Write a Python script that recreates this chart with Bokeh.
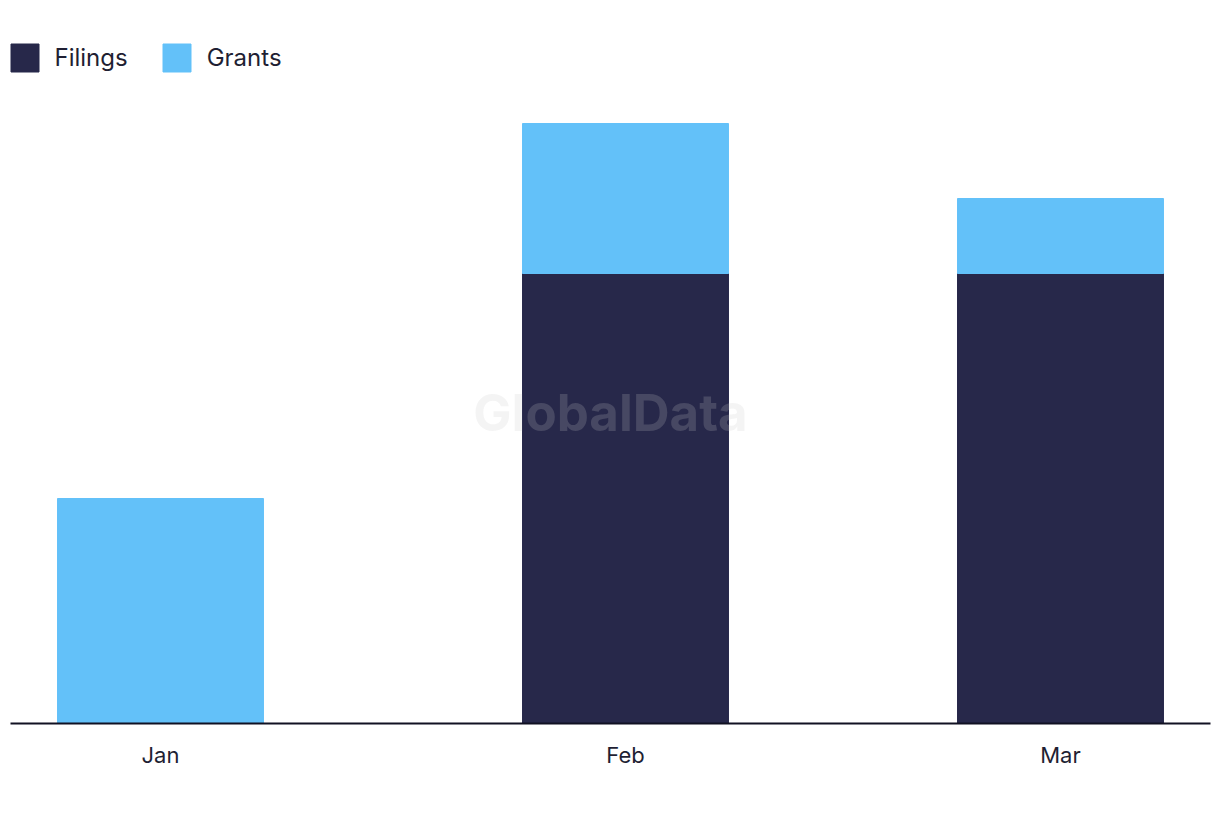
import pandas as pd
from bokeh.plotting import figure
from bokeh.models import ColumnDataSource, Range1d, FixedTicker, Legend, LegendItem, Label
from bokeh.embed import file_html
from bokeh.resources import INLINE

# ---- data ----
months = ["Jan", "Feb", "Mar"]
month_dates = ["2024-01-01", "2024-02-01", "2024-03-01"]
filings = [0, 6, 6]
grants = [3, 2, 1]

NAVY = "#27284a"
BLUE = "#63c1f9"
TEXT = "#1f1f33"
FONT = "Inter"

dates = pd.to_datetime(month_dates)
src = ColumnDataSource(dict(
    x=dates,
    filings=filings,
    grants=grants,
    total=[f + g for f, g in zip(filings, grants)],
))

day = pd.Timedelta(days=1)
p = figure(width=1220, height=814, x_axis_type="datetime",
           output_backend="svg", toolbar_location=None,
           x_range=Range1d(dates[0] - 10 * day, dates[-1] + 10 * day),
           y_range=Range1d(0, 693 / 75),
           min_border_left=10, min_border_right=10, min_border_top=30, min_border_bottom=91)
p.outline_line_color = None
p.grid.visible = False
p.yaxis.visible = False

bw = 13.73 * 24 * 3600 * 1000
r1 = p.vbar(x="x", bottom=0, top="filings", width=bw, color=NAVY, source=src)
r2 = p.vbar(x="x", bottom="filings", top="total", width=bw, color=BLUE, source=src)

ax = p.xaxis[0]
ax.ticker = FixedTicker(ticks=[d.value / 1e6 for d in dates])
ax.major_label_overrides = {d.value / 1e6: m for d, m in zip(dates, months)}
ax.major_tick_line_color = None
ax.minor_tick_line_color = None
ax.axis_line_color = "#111122"
ax.axis_line_width = 2
ax.major_label_text_font = FONT
ax.major_label_text_font_size = "22px"
ax.major_label_text_color = TEXT
ax.major_label_standoff = 12

legend = Legend(items=[LegendItem(label="Filings", renderers=[r1]),
                       LegendItem(label="Grants", renderers=[r2])],
                orientation="horizontal", location=(-3.5, 648),
                glyph_width=35, glyph_height=35, label_standoff=13, spacing=31,
                padding=0, margin=0, border_line_color=None, background_fill_alpha=0,
                label_text_font=FONT, label_text_font_size="24px", label_text_color=TEXT)
p.add_layout(legend)

wm = Label(x=600, y=311, x_units="screen", y_units="screen", text="GlobalData",
           text_font=FONT, text_font_style="bold", text_font_size="51px",
           text_color="#c8c8c8", text_alpha=0.2, text_align="center", text_baseline="middle")
p.add_layout(wm)

open("out.html", "w").write(file_html(p, INLINE))
